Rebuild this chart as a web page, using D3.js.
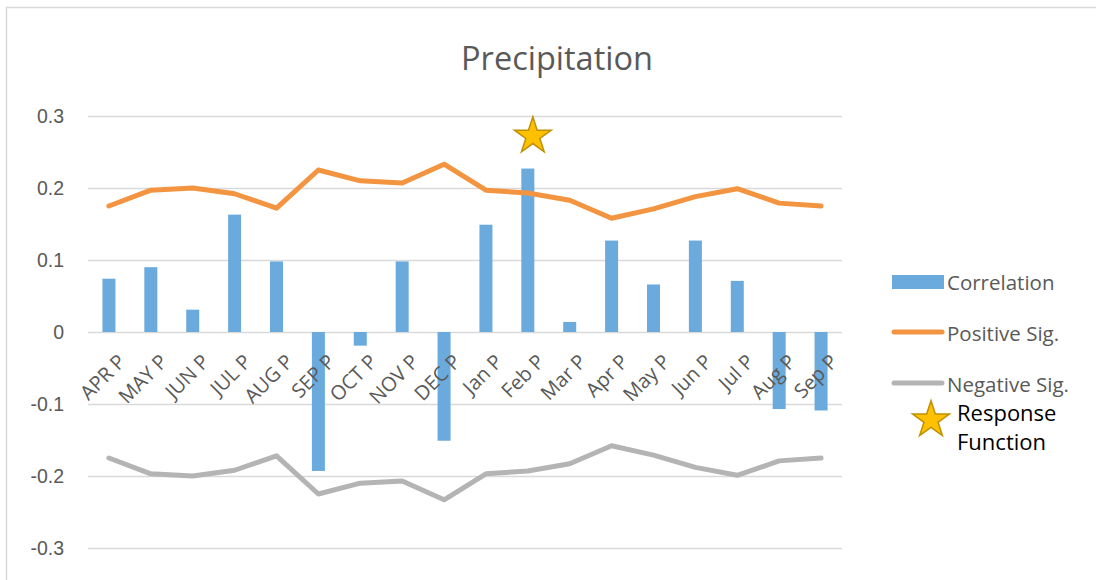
<!DOCTYPE html>
<html>
<head>
<meta charset="utf-8">
<script src="https://cdn.jsdelivr.net/npm/d3@7"></script>
<style>
body { margin: 0; background: #fff; }
svg { display: block; font-family: "Open Sans", sans-serif; }
</style>
</head>
<body>
<div></div>
<script>
var categories = ["APR P", "MAY P", "JUN P", "JUL P", "AUG P", "SEP P", "OCT P", "NOV P", "DEC P",
                  "Jan P", "Feb P", "Mar P", "Apr P", "May P", "Jun P", "Jul P", "Aug P", "Sep P"];
var correlation = [0.074, 0.090, 0.031, 0.163, 0.098, -0.193, -0.019, 0.098, -0.151,
                   0.149, 0.227, 0.014, 0.127, 0.066, 0.127, 0.071, -0.107, -0.109];
var positiveSig = [0.175, 0.197, 0.200, 0.192, 0.172, 0.225, 0.210, 0.207, 0.233,
                   0.197, 0.193, 0.183, 0.158, 0.171, 0.188, 0.199, 0.179, 0.175];
var negativeSig = [-0.175, -0.197, -0.200, -0.192, -0.172, -0.225, -0.210, -0.207, -0.233,
                   -0.197, -0.193, -0.183, -0.158, -0.171, -0.188, -0.199, -0.179, -0.175];
var yTicks = [0.3, 0.2, 0.1, 0, -0.1, -0.2, -0.3];
var starCategory = "Feb P";
var starValue = 0.272;

function init() {
var w = 1096;
var h = 580;

var svg = d3.select("div")
            .append("svg")
            .attr("width", w)
            .attr("height", h);

// chart frame
svg.append("rect")
    .attr("x", 6.5).attr("y", 7.5)
    .attr("width", w + 20).attr("height", h + 20)
    .attr("fill", "none")
    .attr("stroke", "#d9d9d9")
    .attr("stroke-width", 1.5);

var x = d3.scaleBand()
    .domain(categories)
    .range([88, 842]);

var y = d3.scaleLinear()
    .domain([-0.3, 0.3])
    .range([548, 116]);

// gridlines + y labels
svg.append("g")
    .attr("transform", "translate(88,0)")
    .call(d3.axisLeft(y).tickValues(yTicks).tickSize(-754)
        .tickFormat(function(d) { return d === 0 ? "0" : d.toFixed(1); }))
    .call(function(g) {
        g.select(".domain").remove();
        g.selectAll(".tick line").attr("stroke", "#d9d9d9").attr("stroke-width", 1.3);
        g.selectAll(".tick text")
            .attr("x", -24)
            .attr("fill", "#595959")
            .attr("font-size", 19.5);
    });

// bars
var barW = 13;
svg.selectAll("rect.bar")
    .data(correlation)
    .enter()
    .append("rect")
    .attr("class", "bar")
    .attr("x", function(d, i) { return x(categories[i]) + x.bandwidth() / 2 - barW / 2; })
    .attr("y", function(d) { return y(Math.max(0, d)); })
    .attr("width", barW)
    .attr("height", function(d) { return Math.abs(y(d) - y(0)); })
    .attr("fill", "#6aaadc");

// x labels
svg.selectAll("text.xlab")
    .data(categories)
    .enter()
    .append("text")
    .attr("class", "xlab")
    .attr("text-anchor", "end")
    .attr("fill", "#595959")
    .attr("font-size", 20)
    .attr("transform", function(d) {
        return "translate(" + (x(d) + x.bandwidth() / 2 + 8) + ",353) rotate(-45)";
    })
    .attr("dy", "0.7em")
    .text(function(d) { return d; });

var line = d3.line()
    .x(function(d, i) { return x(categories[i]) + x.bandwidth() / 2; })
    .y(function(d) { return y(d); });

svg.append("path")
    .datum(positiveSig)
    .attr("d", line)
    .attr("fill", "none")
    .attr("stroke", "#f39441")
    .attr("stroke-width", 5)
    .attr("stroke-linecap", "round")
    .attr("stroke-linejoin", "round");

svg.append("path")
    .datum(negativeSig)
    .attr("d", line)
    .attr("fill", "none")
    .attr("stroke", "#b4b4b4")
    .attr("stroke-width", 5)
    .attr("stroke-linecap", "round")
    .attr("stroke-linejoin", "round");

var star = d3.symbol().type(d3.symbolStar).size(420);

svg.append("path")
    .attr("d", star())
    .attr("transform", "translate(" + (x(starCategory) + x.bandwidth() / 2 + 5) + "," + y(starValue) + ")")
    .attr("fill", "#ffc000")
    .attr("stroke", "#bf9000")
    .attr("stroke-width", 1.5);

// title
svg.append("text")
    .attr("x", 557)
    .attr("y", 70)
    .attr("text-anchor", "middle")
    .attr("fill", "#595959")
    .attr("font-size", 32.5)
    .text("Precipitation");

// legend
var lg = svg.append("g");
lg.append("rect")
    .attr("x", 892).attr("y", 275).attr("width", 52).attr("height", 14)
    .attr("fill", "#6aaadc");
lg.append("line")
    .attr("x1", 894).attr("x2", 942).attr("y1", 332).attr("y2", 332)
    .attr("stroke", "#f39441").attr("stroke-width", 5).attr("stroke-linecap", "round");
lg.append("line")
    .attr("x1", 894).attr("x2", 942).attr("y1", 383).attr("y2", 383)
    .attr("stroke", "#b4b4b4").attr("stroke-width", 5).attr("stroke-linecap", "round");

var legendLabels = ["Correlation", "Positive Sig.", "Negative Sig."];
lg.selectAll("text.leg")
    .data(legendLabels)
    .enter()
    .append("text")
    .attr("class", "leg")
    .attr("x", 947)
    .attr("y", function(d, i) { return 283 + i * 51; })
    .attr("dy", "0.35em")
    .attr("fill", "#595959")
    .attr("font-size", 20.5)
    .text(function(d) { return d; });

lg.append("path")
    .attr("d", star())
    .attr("transform", "translate(931,420)")
    .attr("fill", "#ffc000")
    .attr("stroke", "#bf9000")
    .attr("stroke-width", 1.5);

lg.append("text")
    .attr("x", 957).attr("y", 421)
    .attr("fill", "#000")
    .attr("font-size", 22)
    .text("Response");
lg.append("text")
    .attr("x", 957).attr("y", 450)
    .attr("fill", "#000")
    .attr("font-size", 22)
    .text("Function");
}

window.onload = init;
</script>
</body>
</html>
